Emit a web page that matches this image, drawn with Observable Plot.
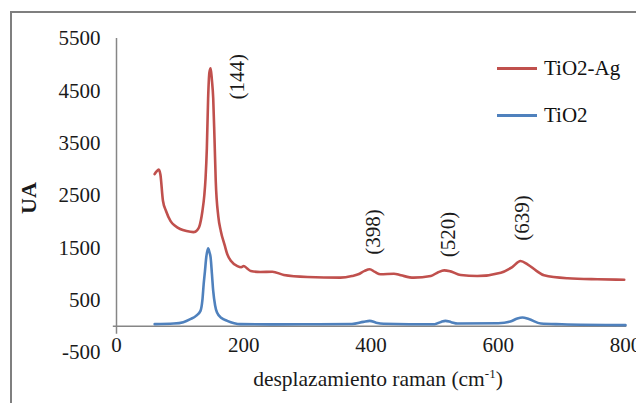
<!DOCTYPE html>
<html>
<head>
<meta charset="utf-8">
<script src="https://cdn.jsdelivr.net/npm/d3@7"></script>
<script src="https://cdn.jsdelivr.net/npm/@observablehq/plot@0.6"></script>
<style>
  html, body { margin: 0; padding: 0; background: #fff; overflow: hidden; }
  #wrap { position: relative; width: 636px; height: 403px; }
  #border { position: absolute; left: 10px; top: 11px; width: 700px; height: 500px;
            border-left: 2px solid #7f7f7f; border-top: 2px solid #7f7f7f; pointer-events: none; z-index: 2; }
  #legend { position: absolute; left: 497px; top: 0px; z-index: 3; font-family: 'Liberation Serif'; font-size: 21px; color: #111; }
  .item { position: absolute; white-space: nowrap; height: 24px; display: flex; align-items: center; }
  .swatch { display: inline-block; width: 40px; height: 3px; margin-right: 7px; }
</style>
</head>
<body>
<div id="wrap">
  <div id="chart"></div>
  <div id="border"></div>
  <div id="legend"></div>
</div>
<script>
// ---- data ----
const seriesNames = ["TiO2-Ag", "TiO2"];
const seriesColors = ["#c0504d", "#4f81bd"];

const agShift = [60, 63, 66.5, 69, 73, 78, 85, 92, 100, 110, 121, 127, 130, 135, 138, 140, 142, 144, 146, 148, 150, 152, 154, 156, 160, 164, 170, 174, 180, 190, 196, 200, 205, 211, 226, 245, 263, 300, 352, 370, 380, 390, 398, 406, 415, 436, 447, 467, 494, 505, 515, 525, 541, 567, 604, 622, 635, 646, 660, 672, 709, 756, 798];
const agIntensity = [2910, 2960, 2994, 2900, 2400, 2200, 2010, 1920, 1860, 1820, 1800, 1840, 1900, 2200, 2500, 2834, 3400, 4358, 4850, 4930, 4700, 4358, 3600, 2771, 2100, 1819, 1550, 1381, 1250, 1152, 1130, 1152, 1110, 1057, 1038, 1044, 981, 943, 930, 960, 994, 1060, 1090, 1040, 994, 1006, 975, 930, 962, 1030, 1070, 1050, 981, 962, 1025, 1133, 1248, 1185, 1060, 975, 918, 899, 891];

const tiShift = [60, 90, 105, 116, 125, 132, 135, 137, 139, 141, 144, 146, 148, 150, 152, 155, 158, 165, 174, 185, 195, 250, 300, 370, 388, 398, 408, 420, 500, 510, 517, 526, 536, 600, 619, 630, 638, 648, 667, 700, 800];
const tiIntensity = [42, 53, 80, 137, 200, 295, 500, 804, 1050, 1310, 1490, 1420, 1310, 1000, 676, 400, 263, 160, 105, 60, 42, 38, 40, 45, 85, 105, 70, 50, 40, 85, 105, 80, 53, 60, 91, 150, 168, 140, 53, 40, 23];

const peakShift = [190, 403, 522, 638];
const peakLabelY = [4771, 1804, 1756, 2072];
const peakLabels = ["(144)", "(398)", "(520)", "(639)"];

const xTicks = [0, 200, 400, 600, 800];
const yTicks = [-500, 500, 1500, 2500, 3500, 4500, 5500];
const xLabel = "desplazamiento raman (cm-1)";
const yLabel = "UA";

// ---- build tables ----
const agData = agShift.map((x, i) => ({x, y: agIntensity[i]}));
const tiData = tiShift.map((x, i) => ({x, y: tiIntensity[i]}));
const peaks = peakShift.map((x, i) => ({x, y: peakLabelY[i], t: peakLabels[i]}));

const axisColor = "#868686";
const textColor = "#1a1a1a";

const chart = Plot.plot({
  width: 636,
  height: 403,
  marginLeft: 116,
  marginRight: 11,
  marginTop: 38,
  marginBottom: 51,
  style: {fontFamily: "Liberation Serif", fontSize: "21px", color: textColor, background: "transparent"},
  x: {domain: [0, 800]},
  y: {domain: [-500, 5500]},
  marks: [
    Plot.axisY({ticks: yTicks, tickSize: 0, tickPadding: 16, tickFormat: d => String(d), label: null, fontSize: 21, fill: textColor}),
    Plot.axisX({ticks: [], label: null}),
    Plot.ruleY([0], {x1: -5, x2: 802, stroke: axisColor, strokeWidth: 1.5}),
    Plot.ruleX([0], {y1: -150, y2: 5500, stroke: axisColor, strokeWidth: 1.5}),
    Plot.text(xTicks, {x: d => d, y: d => 0, dy: 19, text: d => String(d), fontSize: 21, fill: textColor}),
    Plot.line(tiData, {x: "x", y: "y", stroke: seriesColors[1], strokeWidth: 2.6, curve: "monotone-x"}),
    Plot.line(agData, {x: "x", y: "y", stroke: seriesColors[0], strokeWidth: 2.6, curve: "monotone-x"}),
    Plot.text(peaks, {x: "x", y: "y", text: "t", rotate: -90, fontSize: 21, fill: textColor}),
    Plot.text([yLabel], {frameAnchor: "left", textAnchor: "middle", lineAnchor: "middle", dx: -88, dy: 2.5, rotate: -90, fontSize: 22, fontWeight: "bold", fill: textColor}),
    Plot.text([xLabel], {frameAnchor: "bottom", textAnchor: "middle", lineAnchor: "middle", dx: 7, dy: 27, fontSize: 21.5, fill: textColor})
  ]
});
document.getElementById("chart").appendChild(chart);

// superscript for the unit in the x label
chart.querySelectorAll("text").forEach(t => {
  if (t.textContent === xLabel) {
    t.textContent = "";
    const ns = "http://www.w3.org/2000/svg";
    const a = document.createElementNS(ns, "tspan"); a.textContent = "desplazamiento raman (cm";
    const b = document.createElementNS(ns, "tspan"); b.textContent = "-1"; b.setAttribute("dy", "-8"); b.setAttribute("font-size", "13");
    const c = document.createElementNS(ns, "tspan"); c.textContent = ")"; c.setAttribute("dy", "8");
    t.append(a, b, c);
  }
});

// legend (rows centred at y = 68 and y = 115)
const legend = document.getElementById("legend");
seriesNames.forEach((name, i) => {
  const item = document.createElement("div");
  item.className = "item";
  item.style.top = (56 + i * 47) + "px";
  item.innerHTML = `<span class="swatch" style="background:${seriesColors[i]}"></span><span>${name}</span>`;
  legend.appendChild(item);
});
</script>
</body>
</html>
